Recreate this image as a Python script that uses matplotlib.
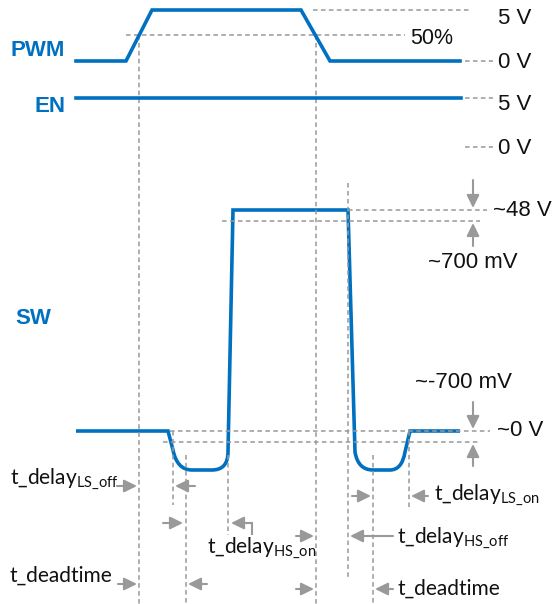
import matplotlib.pyplot as plt
from matplotlib.path import Path
from matplotlib.patches import PathPatch

plt.rcParams['mathtext.fontset'] = 'custom'
plt.rcParams['mathtext.rm'] = 'Lato'

blue = '#0070c0'
gray = '#999999'

# drawing units follow the picture (x right, y down)
pwm_t = [76, 126, 152, 301, 330, 460]
pwm_v = [61, 61, 10, 10, 61, 61]
en_t = [76, 461]
en_v = [98, 98]

# SW waveform: points and path codes (L line, C quadratic curve)
sw_pts = [(76, 431), (168, 431), (173, 450), (177, 470), (192, 470), (212, 470),
          (228, 470), (228, 452), (233, 210), (348, 210), (355, 452), (358, 470),
          (373, 470), (390, 470), (402, 470), (405, 452), (410, 431), (460, 431)]
sw_codes = 'MLLCCLCCLLLCCLCCLL'

# dashed guides: horizontal (y, x0, x1) and vertical (x, y0, y1)
h_guides = [(10, 313, 470), (35, 126, 405), (61, 465, 493), (98, 465, 493),
            (147, 465, 493), (210, 348, 487), (221, 222, 480),
            (431, 170, 490), (442, 163, 480)]
v_guides = [(139, 35, 604), (316, 35, 604), (173, 431, 505), (186, 455, 604),
            (228, 455, 535), (348, 183, 577), (373, 455, 604), (409, 431, 507)]

# arrows: (x_from, y_from, x_to, y_to)
arrows = [(117, 486, 137, 486), (195, 486, 175, 486), (352, 496, 371, 496),
          (428, 496, 411, 496), (163, 523, 183, 523), (252, 523, 231, 523),
          (296, 536, 314, 536), (393, 536, 350, 536), (118, 584, 137, 584),
          (207, 584, 188, 584), (296, 589, 314, 589), (393, 589, 375, 589),
          (473, 180, 473, 208), (473, 246, 473, 223),
          (473, 402, 473, 429), (473, 466, 473, 444)]

# right side level labels (x, y, text, size)
levels = [(498, 19, '5 V', 16), (410, 38, '50%', 15.5), (498, 62, '0 V', 16),
          (498, 104, '5 V', 16), (498, 148, '0 V', 16), (493, 211, '~48 V', 16),
          (428, 262, '~700 mV', 16), (415, 383, '~-700 mV', 16), (497, 430, '~0 V', 16)]

# timing labels (x, baseline y, main, subscript)
timings = [(10, 484, 't_delay', 'LS\\_off'), (10, 582, 't_deadtime', ''),
           (207, 553, 't_delay', 'HS\\_on'), (434, 500, 't_delay', 'LS\\_on'),
           (397, 543, 't_delay', 'HS\\_off'), (397, 595, 't_deadtime', '')]

signals = [(10, 50, 'PWM'), (34, 107, 'EN'), (15, 318, 'SW')]

fig = plt.figure(figsize=(5.53, 6.04), dpi=100)
ax = fig.add_axes([0, 0, 1, 1])
ax.set_xlim(0, 553)
ax.set_ylim(604, 0)
ax.axis('off')

dash = dict(color=gray, lw=1.1, dashes=(3, 2.2))
for y, x0, x1 in h_guides:
    ax.plot([x0, x1], [y, y], **dash)
for x, y0, y1 in v_guides:
    ax.plot([x, x], [y0, y1], **dash)

ax.plot(pwm_t, pwm_v, color=blue, lw=2.6, solid_joinstyle='miter')
ax.plot(en_t, en_v, color=blue, lw=2.6)

code_map = {'M': Path.MOVETO, 'L': Path.LINETO, 'C': Path.CURVE3}
sw_path = Path(sw_pts, [code_map[c] for c in sw_codes])
ax.add_patch(PathPatch(sw_path, fill=False, edgecolor=blue, lw=2.6,
                       joinstyle='miter'))

for x0, y0, x1, y1 in arrows:
    ax.annotate('', xy=(x1, y1), xytext=(x0, y0),
                arrowprops=dict(arrowstyle='-|>,head_length=0.55,head_width=0.27',
                                color=gray, lw=1.5, shrinkA=0, shrinkB=0,
                                mutation_scale=14))
# bent tail of the t_delay HS_on arrow
ax.plot([252, 252], [523, 534], color=gray, lw=1.5)

for x, y, s, fs in levels:
    ax.text(x, y, s, fontsize=fs, family='Liberation Sans', va='center',
            color='#111111')

for x, y, s in signals:
    ax.text(x, y, s, fontsize=16, family='Liberation Sans', fontweight='bold',
            color=blue, va='center')

for x, y, main, sub in timings:
    label = main if not sub else main + '$_{\\mathrm{' + sub + '}}$'
    ax.text(x, y, label, fontsize=15, family='Lato', va='baseline',
            color='#111111')

fig.savefig('out.png', dpi=100)
